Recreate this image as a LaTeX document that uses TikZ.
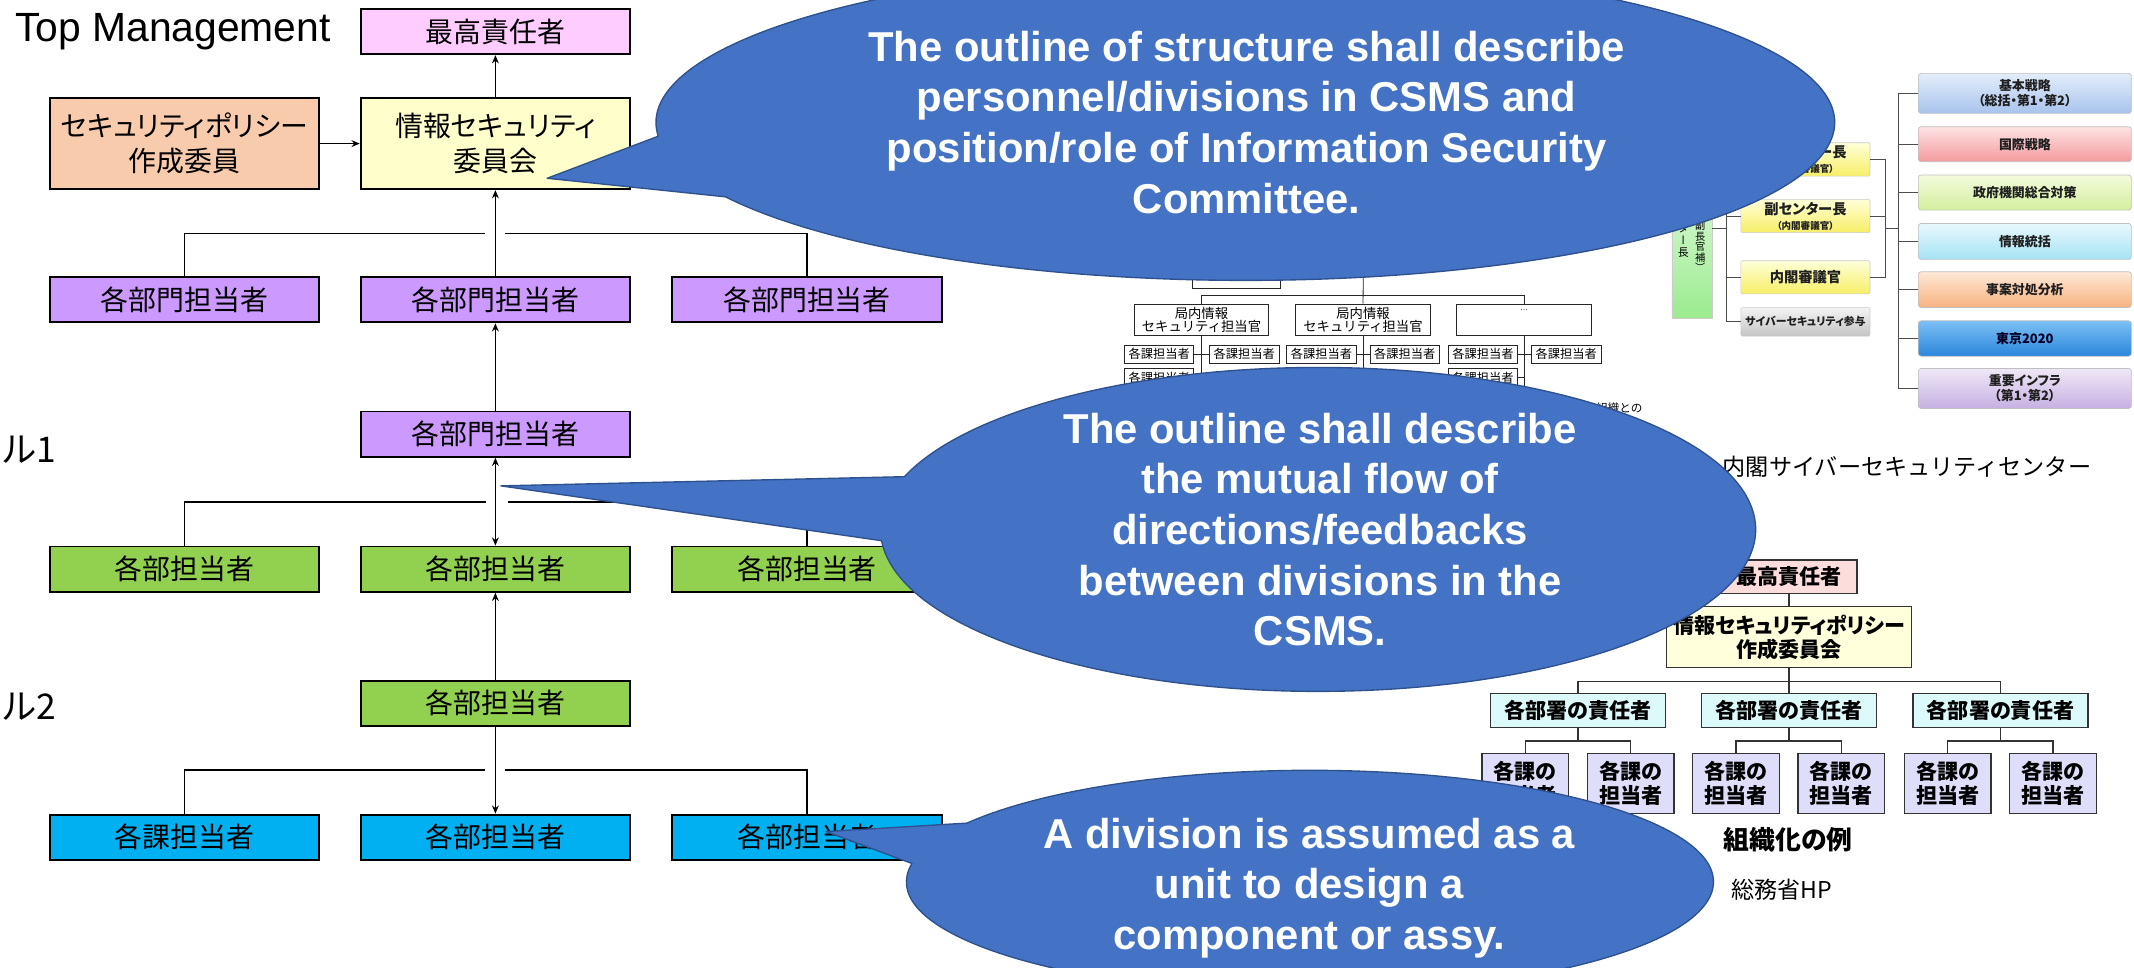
\documentclass[tikz,border=0pt]{standalone}
\usepackage{fontspec}
\setmainfont{Liberation Sans}
\newfontfamily\jpp[RawFeature=+palt]{Noto Sans CJK JP}
\newfontfamily\jpf{Noto Sans CJK JP}
\newfontfamily\jpv[RawFeature=+vert]{Noto Sans CJK JP}
\usetikzlibrary{arrows.meta,calc}
\definecolor{bubblefill}{HTML}{4472C4}
\definecolor{bubbleedge}{HTML}{2F528F}
\definecolor{cpink}{HTML}{FFCCFF}
\definecolor{cpeach}{HTML}{F8CBAD}
\definecolor{cyell}{HTML}{FFFFCC}
\definecolor{cpurp}{HTML}{CC99FF}
\definecolor{cgreen}{HTML}{92D050}
\definecolor{cblue}{HTML}{00B0F0}
\definecolor{nline}{HTML}{4D4D4D}
\definecolor{kbat}{HTML}{E3EDFA}\definecolor{kbab}{HTML}{A7C3EC}
\definecolor{kbbt}{HTML}{FDE3E3}\definecolor{kbbb}{HTML}{F49A9E}
\definecolor{kbct}{HTML}{F4FBDD}\definecolor{kbcb}{HTML}{D3EE9E}
\definecolor{kbdt}{HTML}{E8F8FD}\definecolor{kbdb}{HTML}{A6E2F4}
\definecolor{kbet}{HTML}{FEE8D6}\definecolor{kbeb}{HTML}{F7B281}
\definecolor{kbft}{HTML}{7CC0F5}\definecolor{kbfb}{HTML}{2A86DC}
\definecolor{kbgt}{HTML}{EFE8F7}\definecolor{kbgb}{HTML}{C6B0E2}
\definecolor{ylt}{HTML}{FFFFD8}\definecolor{ylb}{HTML}{F6EE66}
\definecolor{gyt}{HTML}{F4F4F4}\definecolor{gyb}{HTML}{C4C4C4}
\definecolor{grt}{HTML}{F2FDF0}\definecolor{grb}{HTML}{9BEB8F}
\definecolor{mpink}{HTML}{FDDCDC}
\definecolor{myell}{HTML}{FFFFDC}
\definecolor{mcyan}{HTML}{DDFAFA}
\definecolor{mlav}{HTML}{DEDEFB}
\definecolor{darktext}{HTML}{1F1F1F}
\begin{document}
\begin{tikzpicture}[x=1pt,y=-1pt,
  orgbox/.style={draw=black,line width=1.4pt,minimum width=198pt,minimum height=33.3pt,inner sep=0pt,align=center,font=\jpp\fontsize{20.5}{25.5}\selectfont},
  conn/.style={line width=1.3pt,draw=black},
  arrowup/.style={conn,-{Stealth[length=6pt,width=5pt]}},
  twoway/.style={conn,{Stealth[length=6pt,width=5pt]}-{Stealth[length=6pt,width=5pt]}},
  bubble/.style={fill=bubblefill,draw=bubbleedge,line width=1pt,line join=round},
  bubtext/.style={text=white,font=\bfseries\fontsize{30.7}{37.2}\selectfont,align=center,inner sep=0pt,anchor=north},
  thinbox/.style={draw=black!85,line width=0.6pt,fill=white,inner sep=0pt,align=center,font=\jpf\fontsize{9.8}{9}\selectfont},
  cellbox/.style={thinbox,minimum width=51pt,minimum height=13.5pt,font=\jpf\fontsize{9}{9}\selectfont},
  thinline/.style={line width=0.6pt,draw=black!85},
  nbox/.style 2 args={rounded corners=2pt,draw=black!25,line width=0.5pt,top color=#1,bottom color=#2,minimum width=156.5pt,inner sep=0pt,align=center,text=darktext,font=\jpp\bfseries\fontsize{9.5}{11}\selectfont},
  yb/.style={rounded corners=1pt,draw=black!20,line width=0.4pt,top color=ylt,bottom color=ylb,minimum width=94.8pt,inner sep=0pt,align=center,text=darktext,font=\jpp\bfseries\fontsize{10.5}{11}\selectfont},
  nline/.style={line width=0.8pt,draw=nline},
  mbox/.style={draw=black!80,line width=0.9pt,inner sep=0pt,align=center,font=\jpp\bfseries\fontsize{15.5}{17.5}\selectfont},
  mline/.style={line width=0.9pt,draw=black!80}
]
\useasboundingbox (0,0) rectangle (1568,711);
\fill[white] (0,0) rectangle (1568,711);

% ---------- middle screenshot chart ----------
\node[thinbox,minimum width=65pt,minimum height=20pt] (ext) at (908.5,202) {};
\coordinate (stem) at (1001.9,180);
\coordinate (busm) at (1001.9,216.8);
\node[thinbox,minimum width=99pt,minimum height=23.3pt] (k1) at (882.8,235) {局内情報\\セキュリティ担当官};
\node[thinbox,minimum width=99.3pt,minimum height=23.3pt] (k2) at (1001.5,235) {局内情報\\セキュリティ担当官};
\node[thinbox,minimum width=98.8pt,minimum height=23.3pt] (k3) at (1119.8,235) {};
\node[font=\fontsize{6}{6}\selectfont,inner sep=0] (kdots) at (1120,228) {…};
\draw[thinline] (stem) -- (k2.north);
\draw[thinline] (k1.north) |- (busm) -| (k3.north);
\coordinate (k1e) at (882.8,286);
\coordinate (k2e) at (1001.5,286);
\coordinate (k3e) at (1119.8,286);
\draw[thinline] (k1.south) -- (k1e);
\draw[thinline] (k2.south) -- (k2e);
\draw[thinline] (k3.south) -- (k3e);
\node[cellbox] (s1) at (851.7,260.2) {各課担当者};
\node[cellbox] (s2) at (914.2,260.2) {各課担当者};
\node[cellbox] (s3) at (971,260.2) {各課担当者};
\node[cellbox] (s4) at (1032.2,260.2) {各課担当者};
\node[cellbox] (s5) at (1089.7,260.2) {各課担当者};
\node[cellbox] (s6) at (1150.9,260.2) {各課担当者};
\node[cellbox] (s7) at (851.7,277.5) {各課担当者};
\node[cellbox] (s8) at (1089.7,277.5) {各課担当者};
\draw[thinline] (s1) -- (s2);
\draw[thinline] (s3) -- (s4);
\draw[thinline] (s5) -- (s6);
\draw[thinline] (s7.east) -- (s7.east -| k1.south);
\draw[thinline] (s8.east) -- (s8.east -| k3.south);
\node[font=\jpf\fontsize{8.5}{9}\selectfont,anchor=east,inner sep=0] (renkei) at (1207,300) {組織との};

% ---------- NISC chart ----------
\node[draw=black!20,line width=0.4pt,top color=grt,bottom color=grb,minimum width=29.5pt,minimum height=133.5pt,inner sep=0] (ctr) at (1243.2,166.75) {};
\node[font=\jpv\fontsize{8}{8.6}\selectfont,align=center,inner sep=0,anchor=south] (ctra) at (1236.8,189) {セ\\ン\\タ\\ー\\長};
\node[font=\jpv\fontsize{7.5}{7.8}\selectfont,align=center,inner sep=0,anchor=south] (ctrb) at (1249.2,200) {（\\内\\閣\\官\\房\\副\\長\\官\\補\\）};
\node[yb,minimum height=24.5pt] (y1) at (1326.6,117.15) {副センター長\\{\fontsize{7}{8}\selectfont（内閣審議官）}};
\node[yb,minimum height=24.5pt] (y2) at (1326.6,158.75) {副センター長\\{\fontsize{7}{8}\selectfont（内閣審議官）}};
\node[yb,minimum height=24.4pt] (y3) at (1326.6,203.8) {内閣審議官};
\node[yb,top color=gyt,bottom color=gyb,minimum height=21.1pt,font=\jpp\bfseries\fontsize{8}{9}\selectfont] (y4) at (1326.6,236.45) {サイバーセキュリティ参与};
\node[nbox={kbat}{kbab},minimum height=29.4pt] (n1) at (1487.8,68.6) {基本戦略\\（総括・第1・第2）};
\node[nbox={kbbt}{kbbb},minimum height=25.7pt] (n2) at (1487.8,105.95) {国際戦略};
\node[nbox={kbct}{kbcb},minimum height=25.8pt] (n3) at (1487.8,141.5) {政府機関総合対策};
\node[nbox={kbdt}{kbdb},minimum height=26.4pt] (n4) at (1487.8,177.4) {情報統括};
\node[nbox={kbet}{kbeb},minimum height=26.2pt] (n5) at (1487.8,212.8) {事案対処分析};
\node[nbox={kbft}{kbfb},minimum height=26pt,text=black!85!blue] (n6) at (1487.8,248.7) {東京2020};
\node[nbox={kbgt}{kbgb},minimum height=29.4pt] (n7) at (1487.8,285.4) {重要インフラ\\（第1・第2）};
\coordinate (jn) at (1268.5,167.8);
\coordinate (rj) at (1385.3,167.8);
\coordinate (bj) at (1394.8,167.8);
\draw[nline] (ctr.east |- jn) -- (jn);
\draw[nline] (y1.west) -| (y4.west -| jn) -- (y4.west);
\draw[nline] (y2.west) -- (y2.west -| jn);
\draw[nline] (y3.west) -- (y3.west -| jn);
\draw[nline] (y1.east) -| (y3.east -| rj) -- (y3.east);
\draw[nline] (y2.east) -- (y2.east -| rj);
\draw[nline] (rj) -- (bj);
\draw[nline] (n1.west) -| (n7.west -| bj) -- (n7.west);
\draw[nline] (n2.west) -- (n2.west -| bj);
\draw[nline] (n3.west) -- (n3.west -| bj);
\draw[nline] (n4.west) -- (n4.west -| bj);
\draw[nline] (n5.west) -- (n5.west -| bj);
\draw[nline] (n6.west) -- (n6.west -| bj);
\node[font=\jpf\fontsize{17}{19}\selectfont,inner sep=0] (nisc) at (1401.2,343) {内閣サイバーセキュリティセンター};

% ---------- MIC chart ----------
\node[mbox,fill=mpink,minimum width=100pt,minimum height=24.5pt] (sa) at (1314.5,423.75) {最高責任者};
\node[mbox,fill=myell,minimum width=180.4pt,minimum height=44.8pt] (sb) at (1314.5,468.2) {情報セキュリティポリシー\\作成委員会};
\node[mbox,fill=mcyan,minimum width=128.7pt,minimum height=25pt] (sr1) at (1159.4,522) {各部署の責任者};
\node[mbox,fill=mcyan,minimum width=128.7pt,minimum height=25pt] (sr2) at (1314.5,522) {各部署の責任者};
\node[mbox,fill=mcyan,minimum width=128.7pt,minimum height=25pt] (sr3) at (1469.9,522) {各部署の責任者};
\node[mbox,fill=mlav,minimum width=63.6pt,minimum height=44.1pt] (m1) at (1120.7,575.65) {各課の\\担当者};
\node[mbox,fill=mlav,minimum width=63.6pt,minimum height=44.1pt] (m2) at (1198.15,575.65) {各課の\\担当者};
\node[mbox,fill=mlav,minimum width=63.6pt,minimum height=44.1pt] (m3) at (1275.5,575.65) {各課の\\担当者};
\node[mbox,fill=mlav,minimum width=63.6pt,minimum height=44.1pt] (m4) at (1352.9,575.65) {各課の\\担当者};
\node[mbox,fill=mlav,minimum width=63.6pt,minimum height=44.1pt] (m5) at (1431.05,575.65) {各課の\\担当者};
\node[mbox,fill=mlav,minimum width=63.6pt,minimum height=44.1pt] (m6) at (1508.4,575.65) {各課の\\担当者};
\coordinate (sbus) at (1314.5,500.9);
\coordinate (sg1) at (1159.4,544.5);
\coordinate (sg2) at (1314.5,544.5);
\coordinate (sg3) at (1469.9,544.5);
\draw[mline] (sa) -- (sb);
\draw[mline] (sb) -- (sr2);
\draw[mline] (sr1.north) |- (sbus) -| (sr3.north);
\draw[mline] (sr1) -- (sg1);
\draw[mline] (sr2) -- (sg2);
\draw[mline] (sr3) -- (sg3);
\draw[mline] (m1.north) |- (sg1) -| (m2.north);
\draw[mline] (m3.north) |- (sg2) -| (m4.north);
\draw[mline] (m5.north) |- (sg3) -| (m6.north);
\node[font=\jpp\bfseries\fontsize{19}{21}\selectfont,inner sep=0] (rei) at (1314,617.3) {組織化の例};
\node[font=\jpf\fontsize{17}{19}\selectfont,inner sep=0] (hp) at (1309,654) {総務省HP};

% ---------- left chart ----------
\node[font=\fontsize{30}{36}\selectfont,anchor=base west,inner sep=0] (tm) at (11,30.6) {Top Management};
\node[font=\jpp\fontsize{26}{30}\selectfont,anchor=base west,inner sep=0] (lab1) at (2,340) {ル1};
\node[font=\jpp\fontsize{26}{30}\selectfont,anchor=base west,inner sep=0] (lab2) at (2,529) {ル2};

\node[orgbox,fill=cpink] (top) at (364,23.2) {最高責任者};
\node[orgbox,fill=cpeach,minimum height=67pt] (pol) at (135.5,105.5) {セキュリティポリシー\\作成委員};
\node[orgbox,fill=cyell,minimum height=67pt] (isc) at (364,105.5) {情報セキュリティ\\委員会};
\node[orgbox,fill=cpurp] (d1) at (135.5,220.2) {各部門担当者};
\node[orgbox,fill=cpurp] (d2) at (364,220.2) {各部門担当者};
\node[orgbox,fill=cpurp] (d3) at (593,220.2) {各部門担当者};
\node[orgbox,fill=cpurp] (lv1) at (364,319) {各部門担当者};
\node[orgbox,fill=cgreen] (g1) at (135.5,418.2) {各部担当者};
\node[orgbox,fill=cgreen] (g2) at (364,418.2) {各部担当者};
\node[orgbox,fill=cgreen] (g3) at (593,418.2) {各部担当者};
\node[orgbox,fill=cgreen] (lv2) at (364,516.7) {各部担当者};
\node[orgbox,fill=cblue] (b1) at (135.5,615.2) {各課担当者};
\node[orgbox,fill=cblue] (b2) at (364,615.2) {各部担当者};
\node[orgbox,fill=cblue] (b3) at (593,615.2) {各部担当者};

\draw[arrowup] (pol) -- (isc);
\draw[arrowup] (isc) -- (top);
\draw[arrowup] (d2) -- (isc);
\coordinate (h1l) at (356,171.5); \coordinate (h1r) at (371,171.5);
\draw[conn] (d1.north) |- (h1l);
\draw[conn] (h1r) -| (d3.north);
\draw[arrowup] (lv1) -- (d2);
\coordinate (h2l) at (357,368.6); \coordinate (h2r) at (373,368.6);
\draw[conn] (g1.north) |- (h2l);
\draw[conn] (h2r) -| (g3.north);
\draw[twoway] (lv1) -- (g2);
\draw[arrowup] (lv2) -- (g2);
\coordinate (h3l) at (356,565.8); \coordinate (h3r) at (371,565.8);
\draw[conn] (b1.north) |- (h3l);
\draw[conn] (h3r) -| (b3.north);
\draw[arrowup] (lv2) -- (b2);

% ---------- callouts ----------
\coordinate (e1) at (915,90);
\coordinate (t1) at (402,131);
\path[bubble] ($(e1)+(175:433 and 116)$) -- (t1) -- ($(e1)+(151.9:433 and 116)$)
  arc[start angle=151.9,end angle=-185,x radius=433,y radius=116] -- cycle;
\node[bubtext] (q1) at (916,22.6) {The outline of structure shall describe\\personnel/divisions in CSMS and\\position/role of Information Security\\Committee.};

\coordinate (e2) at (968.5,389);
\coordinate (t2) at (368,357);
\path[bubble] ($(e2)+(199:321.5 and 119)$) -- (t2) -- ($(e2)+(176:321.5 and 119)$)
  arc[start angle=176,end angle=-161,x radius=321.5,y radius=119] -- cycle;
\node[bubtext] (q2) at (970,303.3) {The outline shall describe\\the mutual flow of\\directions/feedbacks\\between divisions in the\\CSMS.};

\coordinate (e3) at (962.5,648);
\coordinate (t3) at (607,611);
\path[bubble] ($(e3)+(211.8:296.5 and 82)$) -- (t3) -- ($(e3)+(189.5:296.5 and 82)$)
  arc[start angle=189.5,end angle=-148.2,x radius=296.5,y radius=82] -- cycle;
\node[bubtext] (q3) at (962,600.9) {A division is assumed as a\\unit to design a\\component or assy.};
\end{tikzpicture}
\end{document}
